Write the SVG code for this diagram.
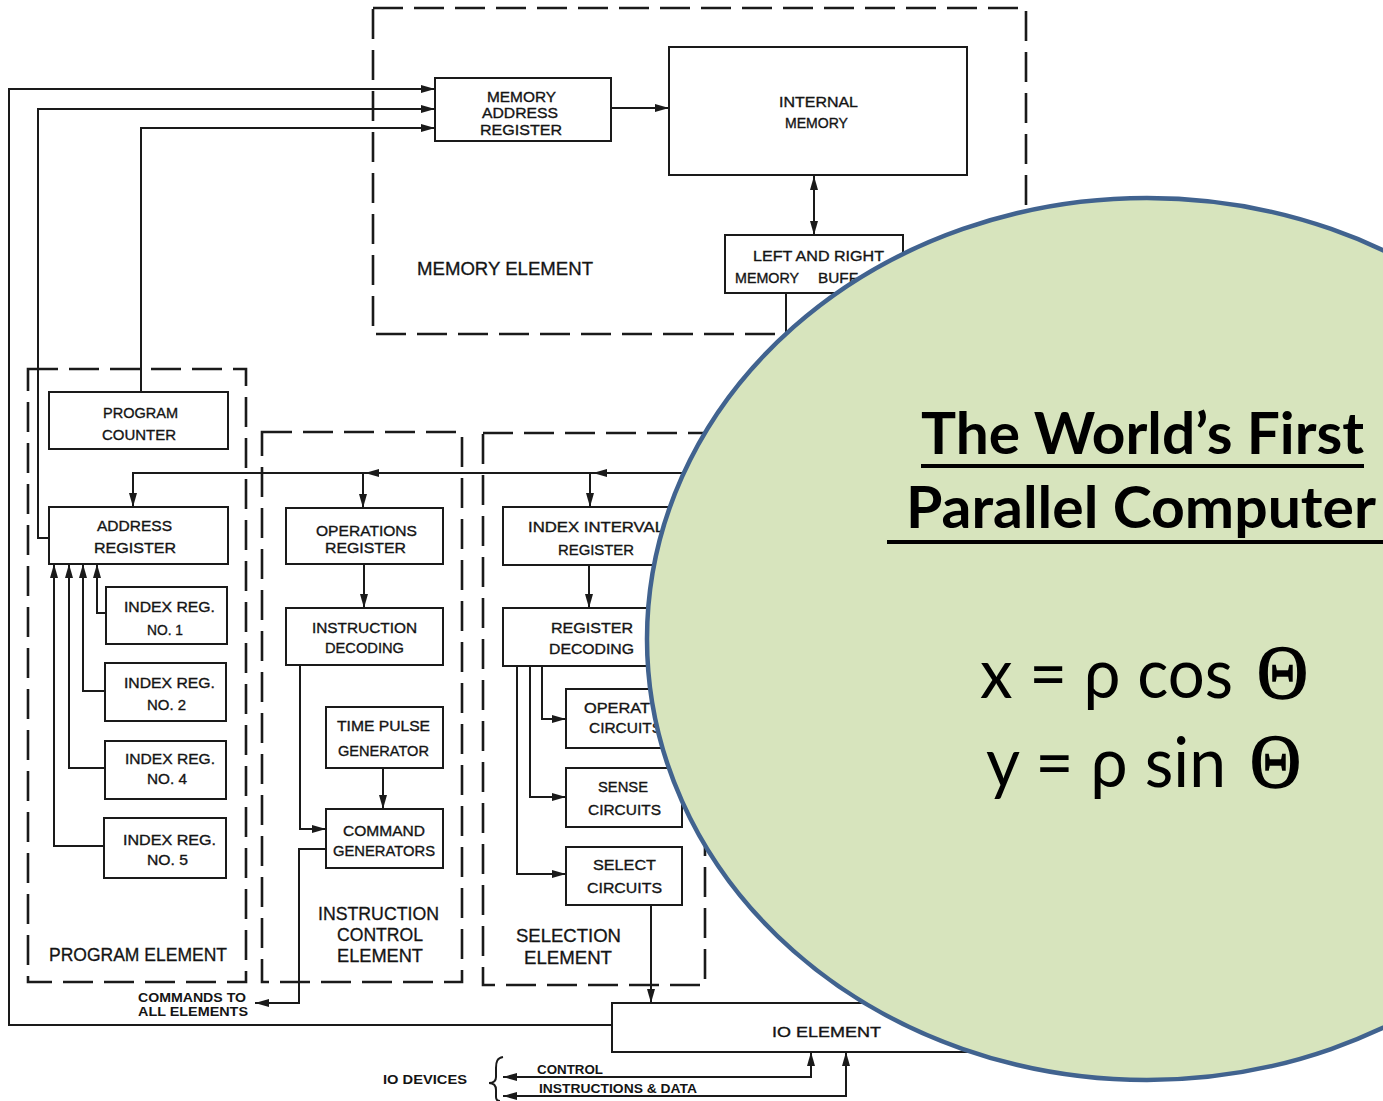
<svg xmlns="http://www.w3.org/2000/svg" width="1383" height="1101" viewBox="0 0 1383 1101">
<defs>
<style>
.box{fill:#fff;stroke:#1a1a1a;stroke-width:2}
.dash{fill:none;stroke:#1a1a1a;stroke-width:2.6;stroke-dasharray:30 11}
.t{font-family:"Liberation Sans",Arial,sans-serif;font-size:15px;fill:#141414;stroke:#141414;stroke-width:0.35}
.el{font-family:"Liberation Sans",Arial,sans-serif;font-size:18px;fill:#141414;stroke:#141414;stroke-width:0.3}
.sm{font-family:"Liberation Sans",Arial,sans-serif;font-size:12.5px;font-weight:bold;fill:#141414}
.conn path{fill:none;stroke:#1a1a1a;stroke-width:2}
.title{font-family:Lato,"Open Sans","Liberation Sans",sans-serif;font-weight:bold;font-size:57px;fill:#000}
.eq{font-family:Lato,"Open Sans","Liberation Sans",sans-serif;font-size:70px;fill:#000}
.th{font-family:"Liberation Serif","DejaVu Serif",serif;font-size:77px;fill:#000;stroke:#000;stroke-width:1.6}
</style>
<marker id="ah" viewBox="0 0 14 8" refX="14" refY="4" markerWidth="14" markerHeight="8" markerUnits="userSpaceOnUse" orient="auto-start-reverse">
<path d="M0,0 L14,4 L0,8 z" fill="#1a1a1a"/>
</marker>
</defs>
<rect x="0" y="0" width="1383" height="1101" fill="#fff"/>

<!-- element containers -->
<g id="memory-element">
<rect class="dash" x="373" y="8" width="653" height="326"/>
<text class="el" x="417" y="275" textLength="176" lengthAdjust="spacingAndGlyphs">MEMORY ELEMENT</text>
</g>
<g id="program-element">
<rect class="dash" x="28" y="369" width="218" height="613"/>
<text class="el" x="49" y="961" textLength="178" lengthAdjust="spacingAndGlyphs">PROGRAM ELEMENT</text>
</g>
<g id="instruction-control-element">
<rect class="dash" x="262" y="432" width="200" height="550"/>
<text class="el" x="318" y="920" textLength="121" lengthAdjust="spacingAndGlyphs">INSTRUCTION</text>
<text class="el" x="337" y="941" textLength="86" lengthAdjust="spacingAndGlyphs">CONTROL</text>
<text class="el" x="337" y="962" textLength="86" lengthAdjust="spacingAndGlyphs">ELEMENT</text>
</g>
<g id="selection-element">
<rect class="dash" x="483" y="433" width="222" height="552"/>
<text class="el" x="516" y="942" textLength="105" lengthAdjust="spacingAndGlyphs">SELECTION</text>
<text class="el" x="524" y="964" textLength="88" lengthAdjust="spacingAndGlyphs">ELEMENT</text>
</g>

<!-- connectors -->
<g id="connectors" class="conn">
<path d="M612,1025 H9 V89 H435" marker-end="url(#ah)"/>
<path d="M49,538 H38 V109 H435" marker-end="url(#ah)"/>
<path d="M141,392 V128 H435" marker-end="url(#ah)"/>
<path d="M611,108 H669" marker-end="url(#ah)"/>
<path d="M814,176 V235" marker-start="url(#ah)" marker-end="url(#ah)"/>
<path d="M786,293 V370"/>
<path d="M730,473 H593" marker-end="url(#ah)"/>
<path d="M593,473 H365" marker-end="url(#ah)"/>
<path d="M365,473 H133 V507" marker-end="url(#ah)"/>
<path d="M363,473 V508" marker-end="url(#ah)"/>
<path d="M590,473 V507" marker-end="url(#ah)"/>
<path d="M106,613 H97 V564" marker-end="url(#ah)"/>
<path d="M105,691 H83 V564" marker-end="url(#ah)"/>
<path d="M105,768 H69 V564" marker-end="url(#ah)"/>
<path d="M104,846 H54 V564" marker-end="url(#ah)"/>
<path d="M364,564 V608" marker-end="url(#ah)"/>
<path d="M300,665 V829 H326" marker-end="url(#ah)"/>
<path d="M383,768 V809" marker-end="url(#ah)"/>
<path d="M326,849 H299 V1003 H255" marker-end="url(#ah)"/>
<path d="M589,565 V608" marker-end="url(#ah)"/>
<path d="M542,666 V719 H566" marker-end="url(#ah)"/>
<path d="M530,666 V797 H566" marker-end="url(#ah)"/>
<path d="M517,666 V874 H566" marker-end="url(#ah)"/>
<path d="M651,905 V1003" marker-end="url(#ah)"/>
<path d="M811,1052 V1077 H503" marker-start="url(#ah)" marker-end="url(#ah)"/>
<path d="M846,1052 V1096 H503" marker-start="url(#ah)" marker-end="url(#ah)"/>
<path d="M503,1057 C497,1058 496,1062 496,1068 L496,1077 C496,1081 494,1083 489,1083 C494,1083 496,1086 496,1090 L496,1097 C496,1100 498,1101 500,1101" stroke-width="1.5"/>
</g>

<!-- nodes -->
<g id="memory-address-register">
<rect class="box" x="435" y="78" width="176" height="63"/>
<text class="t" x="487" y="102" textLength="69" lengthAdjust="spacingAndGlyphs">MEMORY</text>
<text class="t" x="482" y="118" textLength="76" lengthAdjust="spacingAndGlyphs">ADDRESS</text>
<text class="t" x="480" y="135" textLength="82" lengthAdjust="spacingAndGlyphs">REGISTER</text>
</g>
<g id="internal-memory">
<rect class="box" x="669" y="47" width="298" height="128"/>
<text class="t" x="779" y="107" textLength="79" lengthAdjust="spacingAndGlyphs">INTERNAL</text>
<text class="t" x="785" y="128" textLength="63" lengthAdjust="spacingAndGlyphs">MEMORY</text>
</g>
<g id="memory-buffer">
<rect class="box" x="725" y="235" width="178" height="58"/>
<text class="t" x="753" y="261" textLength="131" lengthAdjust="spacingAndGlyphs">LEFT AND RIGHT</text>
<text class="t" x="735" y="283" textLength="64" lengthAdjust="spacingAndGlyphs">MEMORY</text>
<text class="t" x="818" y="283" textLength="40" lengthAdjust="spacingAndGlyphs">BUFF</text>
</g>
<g id="program-counter">
<rect class="box" x="49" y="392" width="179" height="57"/>
<text class="t" x="103" y="418" textLength="75" lengthAdjust="spacingAndGlyphs">PROGRAM</text>
<text class="t" x="102" y="440" textLength="74" lengthAdjust="spacingAndGlyphs">COUNTER</text>
</g>
<g id="address-register">
<rect class="box" x="49" y="507" width="179" height="57"/>
<text class="t" x="97" y="531" textLength="75" lengthAdjust="spacingAndGlyphs">ADDRESS</text>
<text class="t" x="94" y="553" textLength="82" lengthAdjust="spacingAndGlyphs">REGISTER</text>
</g>
<g id="index-reg-1">
<rect class="box" x="106" y="587" width="121" height="57"/>
<text class="t" x="124" y="612" textLength="91" lengthAdjust="spacingAndGlyphs">INDEX REG.</text>
<text class="t" x="147" y="635" textLength="36" lengthAdjust="spacingAndGlyphs">NO. 1</text>
</g>
<g id="index-reg-2">
<rect class="box" x="105" y="663" width="121" height="58"/>
<text class="t" x="124" y="688" textLength="91" lengthAdjust="spacingAndGlyphs">INDEX REG.</text>
<text class="t" x="147" y="710" textLength="39" lengthAdjust="spacingAndGlyphs">NO. 2</text>
</g>
<g id="index-reg-4">
<rect class="box" x="105" y="741" width="121" height="58"/>
<text class="t" x="125" y="764" textLength="90" lengthAdjust="spacingAndGlyphs">INDEX REG.</text>
<text class="t" x="147" y="784" textLength="40" lengthAdjust="spacingAndGlyphs">NO. 4</text>
</g>
<g id="index-reg-5">
<rect class="box" x="104" y="818" width="122" height="60"/>
<text class="t" x="123" y="845" textLength="93" lengthAdjust="spacingAndGlyphs">INDEX REG.</text>
<text class="t" x="147" y="865" textLength="41" lengthAdjust="spacingAndGlyphs">NO. 5</text>
</g>
<g id="operations-register">
<rect class="box" x="286" y="508" width="157" height="56"/>
<text class="t" x="316" y="536" textLength="101" lengthAdjust="spacingAndGlyphs">OPERATIONS</text>
<text class="t" x="325" y="553" textLength="81" lengthAdjust="spacingAndGlyphs">REGISTER</text>
</g>
<g id="instruction-decoding">
<rect class="box" x="286" y="608" width="157" height="57"/>
<text class="t" x="312" y="633" textLength="105" lengthAdjust="spacingAndGlyphs">INSTRUCTION</text>
<text class="t" x="325" y="653" textLength="79" lengthAdjust="spacingAndGlyphs">DECODING</text>
</g>
<g id="time-pulse-generator">
<rect class="box" x="326" y="707" width="117" height="61"/>
<text class="t" x="337" y="731" textLength="93" lengthAdjust="spacingAndGlyphs">TIME PULSE</text>
<text class="t" x="338" y="756" textLength="91" lengthAdjust="spacingAndGlyphs">GENERATOR</text>
</g>
<g id="command-generators">
<rect class="box" x="326" y="809" width="117" height="59"/>
<text class="t" x="343" y="836" textLength="82" lengthAdjust="spacingAndGlyphs">COMMAND</text>
<text class="t" x="333" y="856" textLength="102" lengthAdjust="spacingAndGlyphs">GENERATORS</text>
</g>
<g id="commands-label">
<text class="sm" x="138" y="1002" textLength="108" lengthAdjust="spacingAndGlyphs">COMMANDS TO</text>
<text class="sm" x="138" y="1016" textLength="110" lengthAdjust="spacingAndGlyphs">ALL ELEMENTS</text>
</g>
<g id="index-interval-register">
<rect class="box" x="503" y="507" width="180" height="58"/>
<text class="t" x="528" y="532" textLength="136" lengthAdjust="spacingAndGlyphs">INDEX INTERVAL</text>
<text class="t" x="558" y="555" textLength="76" lengthAdjust="spacingAndGlyphs">REGISTER</text>
</g>
<g id="register-decoding">
<rect class="box" x="503" y="608" width="180" height="58"/>
<text class="t" x="551" y="633" textLength="82" lengthAdjust="spacingAndGlyphs">REGISTER</text>
<text class="t" x="549" y="654" textLength="85" lengthAdjust="spacingAndGlyphs">DECODING</text>
</g>
<g id="operation-circuits">
<rect class="box" x="566" y="689" width="116" height="59"/>
<text class="t" x="584" y="713" textLength="66" lengthAdjust="spacingAndGlyphs">OPERAT</text>
<text class="t" x="589" y="733" textLength="73" lengthAdjust="spacingAndGlyphs">CIRCUITS</text>
</g>
<g id="sense-circuits">
<rect class="box" x="566" y="768" width="116" height="59"/>
<text class="t" x="598" y="792" textLength="50" lengthAdjust="spacingAndGlyphs">SENSE</text>
<text class="t" x="588" y="815" textLength="73" lengthAdjust="spacingAndGlyphs">CIRCUITS</text>
</g>
<g id="select-circuits">
<rect class="box" x="566" y="847" width="116" height="58"/>
<text class="t" x="593" y="870" textLength="63" lengthAdjust="spacingAndGlyphs">SELECT</text>
<text class="t" x="587" y="893" textLength="75" lengthAdjust="spacingAndGlyphs">CIRCUITS</text>
</g>
<g id="io-element">
<rect class="box" x="612" y="1003" width="520" height="49"/>
<text class="t" x="772" y="1037" textLength="109" lengthAdjust="spacingAndGlyphs">IO ELEMENT</text>
</g>
<g id="io-labels">
<text class="sm" x="537" y="1074" textLength="66" lengthAdjust="spacingAndGlyphs">CONTROL</text>
<text class="sm" x="539" y="1093" textLength="158" lengthAdjust="spacingAndGlyphs">INSTRUCTIONS &amp; DATA</text>
<text class="sm" x="383" y="1084" textLength="84" lengthAdjust="spacingAndGlyphs">IO DEVICES</text>
</g>

<!-- overlay callout -->
<g id="callout">
<ellipse cx="1147" cy="639" rx="500" ry="441" fill="#d7e4bd" stroke="#41638f" stroke-width="4.5"/>
<text class="title" x="921" y="454" textLength="443" lengthAdjust="spacingAndGlyphs">The World’s First</text>
<line x1="921" y1="466" x2="1364" y2="466" stroke="#000" stroke-width="4"/>
<text class="title" x="906" y="528" textLength="470" lengthAdjust="spacingAndGlyphs">Parallel Computer</text>
<line x1="887" y1="542" x2="1383" y2="542" stroke="#000" stroke-width="4"/>
<text class="eq" x="980" y="698" textLength="253" lengthAdjust="spacingAndGlyphs">x = ρ cos</text>
<text class="th" x="1257" y="698" textLength="51" lengthAdjust="spacingAndGlyphs">Θ</text>
<text class="eq" x="986" y="787" textLength="240" lengthAdjust="spacingAndGlyphs">y = ρ sin</text>
<text class="th" x="1250" y="787" textLength="51" lengthAdjust="spacingAndGlyphs">Θ</text>
</g>
</svg>
